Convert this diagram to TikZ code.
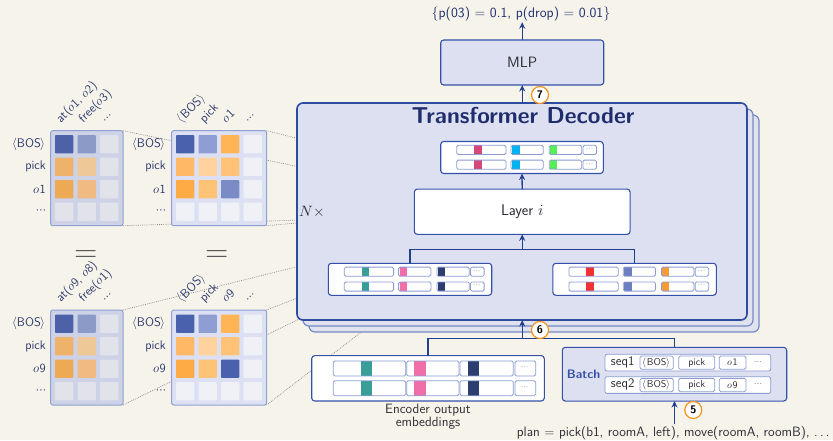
\documentclass[tikz,border=0pt]{standalone}
\usepackage{fontspec}
\usepackage{unicode-math}
\setmathfont{Latin Modern Math}
\renewcommand{\familydefault}{\sfdefault}
\usetikzlibrary{arrows.meta,backgrounds}
\definecolor{bg}{HTML}{F6F4EA}
\definecolor{boxblue}{HTML}{3450A8}
\definecolor{tdblue}{HTML}{2E4BA2}
\definecolor{copyblue}{HTML}{7488C8}
\definecolor{copyfill}{HTML}{E0E2EE}
\definecolor{boxfill}{HTML}{DDE0F0}
\definecolor{arrowblue}{HTML}{23408F}
\definecolor{navyt}{HTML}{1F2D6E}
\definecolor{labnavy}{HTML}{2E3A70}
\definecolor{txtgray}{HTML}{2C2C34}
\definecolor{barblue}{HTML}{8C9CD2}
\definecolor{dotgray}{HTML}{7A7A8A}
\definecolor{numorange}{HTML}{F7941D}
\definecolor{zoomgray}{HTML}{8A8A8A}
\definecolor{eqgray}{HTML}{5A5A5A}
\definecolor{batchblue}{HTML}{3450A8}
\definecolor{matborder}{HTML}{8FA0D2}
\definecolor{matAfill}{HTML}{CDD2E6}
\definecolor{matBfill}{HTML}{DCE0F2}
% cell colours
\definecolor{Ab}{HTML}{4C61A8}
\definecolor{Am}{HTML}{8C9AC8}
\definecolor{Ag}{HTML}{E1E2EA}
\definecolor{Ao1}{HTML}{EEB26A}
\definecolor{Ao2}{HTML}{EFC897}
\definecolor{Ao3}{HTML}{EEA954}
\definecolor{Ao4}{HTML}{EFBB82}
\definecolor{Bb}{HTML}{4A62AE}
\definecolor{Bm}{HTML}{8E9ED2}
\definecolor{Bo}{HTML}{FFB554}
\definecolor{Bl}{HTML}{F0F1F7}
\definecolor{Bo21}{HTML}{FFB966}
\definecolor{Bo22}{HTML}{FFD29E}
\definecolor{Bo23}{HTML}{FFC276}
\definecolor{Bo31}{HTML}{FFAB45}
\definecolor{Bo32}{HTML}{FFC375}
\definecolor{Bb2}{HTML}{7A8BC6}
% embedding colours
\definecolor{crimson}{HTML}{D5467A}
\definecolor{cyanc}{HTML}{00B2EE}
\definecolor{greenc}{HTML}{55EE55}
\definecolor{tealc}{HTML}{3A9E98}
\definecolor{pinkc}{HTML}{F06FA8}
\definecolor{navybar}{HTML}{2C3D70}
\definecolor{redc}{HTML}{F03232}
\definecolor{slatec}{HTML}{6A7EC0}
\definecolor{orangec}{HTML}{F79A38}

\newcommand{\myfs}[1]{\fontsize{#1}{#1}\selectfont\sffamily}
\newcommand{\mcells}[4]{%
  \foreach \mc [count=\k from 0] in {#4}{%
    \pgfmathtruncatemacro{\rr}{floor(\k/#3)}%
    \pgfmathtruncatemacro{\cq}{mod(\k,#3)}%
    \fill[\mc, rounded corners=0.8] ({#1+22.5*\cq},{#2+22.5*\rr}) rectangle ++(18.3,18.3);
  }}
\newcommand{\ebar}[7]{%
  \fill[white, rounded corners=1.5] (#1,#5) rectangle (#2,#6);
  \fill[#7] (#3,#5) rectangle (#4,#6);
  \draw[barline] (#1,#5) rectangle (#2,#6);}
\newcommand{\edots}[4]{%
  \fill[white, rounded corners=1.5] (#1,#3) rectangle (#2,#4);
  \draw[barline] (#1,#3) rectangle (#2,#4);
  \path ({(#1+#2)/2},{(#3+#4)/2}) node[font=\myfs{9}, text=dotgray, inner sep=0] {$\cdots$};}
\newcommand{\smallemb}[5]{%
  \begin{scope}[shift={(#1,#2)}]
  \foreach \yy in {3.8,18.6}{%
    \ebar{16}{65.3}{33.5}{41}{\yy}{\yy+9.2}{#3}
    \ebar{70.3}{102.6}{71.2}{78.8}{\yy}{\yy+9.2}{#4}
    \ebar{108.6}{141}{109.3}{116.5}{\yy}{\yy+9.2}{#5}
    \edots{142.2}{155.8}{\yy}{\yy+9.2}
  }
  \end{scope}}

\begin{document}
\begin{tikzpicture}[x=1pt,y=-1pt,font=\sffamily,
  box/.style={draw=boxblue, line width=1.1, fill=boxfill, rounded corners=3, inner sep=0, outer sep=0},
  wbox/.style={box, fill=white},
  tdmain/.style={draw=tdblue, line width=1.6, fill=boxfill, rounded corners=6, inner sep=0, outer sep=0},
  tdcopy/.style={draw=copyblue, line width=1.2, fill=copyfill, rounded corners=6, inner sep=0, outer sep=0},
  arr/.style={draw=arrowblue, line width=1.3, -{Stealth[length=6.5,width=6]}},
  conn/.style={draw=arrowblue, line width=1.2},
  num/.style={circle, draw=numorange, line width=1.2, fill=white, inner sep=0, minimum size=17, font=\myfs{11}\bfseries, text=black},
  barline/.style={draw=barblue, line width=0.8, rounded corners=1.5},
  zoomline/.style={draw=zoomgray, line width=0.7, dash pattern=on 0.8pt off 1.1pt},
  matA/.style={draw=matborder, line width=1, fill=matAfill, rounded corners=2, inner sep=0, outer sep=0},
  matB/.style={draw=matborder, line width=1, fill=matBfill, rounded corners=2, inner sep=0, outer sep=0},
  rowlab/.style={anchor=east, font=\myfs{12.5}, text=labnavy, inner sep=0},
  collab/.style={rotate=45, anchor=base west, font=\myfs{12.5}, text=labnavy, inner sep=0},
  tok/.style={draw=barblue, line width=0.8, fill=white, rounded corners=1.5, minimum height=13.3, inner sep=0, font=\myfs{10}, text=txtgray},
  rowbox/.style={draw=barblue, line width=0.8, fill=white, rounded corners=2, inner sep=0, minimum width=165.7, minimum height=16.7}
]
\begin{pgfonlayer}{background}
\fill[bg] (0,0) rectangle (833,440);
\end{pgfonlayer}
\useasboundingbox (0,0) rectangle (833,440);

% ---------------- attention matrices ----------------
% top-left
\node[matA, minimum width=72.3, minimum height=95, anchor=north west] (mTL) at (50.7,130.7) {};
\mcells{55}{135}{3}{Ab,Am,Ag,Ao1,Ao2,Ag,Ao3,Ao4,Ag,Ag,Ag,Ag}
\node[rowlab] (tlr1) at (46,144.2) {$\langle$BOS$\rangle$};
\node[rowlab] (tlr2) at (46,166.7) {pick};
\node[rowlab] (tlr3) at (46,189.2) {$o$1};
\node[rowlab] (tlr4) at (46,211.7) {$\cdots$};
\node[collab] (tlc1) at (60.7,123.3) {at($o$1, $o$2)};
\node[collab] (tlc2) at (83.2,123.3) {free($o$3)};
\node[collab] (tlc3) at (106.2,123.3) {$\cdots$};
% top-right
\node[matB, minimum width=94.8, minimum height=95, anchor=north west] (mTR) at (171.7,130.7) {};
\mcells{176}{135}{4}{Bb,Bm,Bo,Bl,Bo21,Bo22,Bo23,Bl,Bo31,Bo32,Bb2,Bl,Bl,Bl,Bl,Bl}
\node[rowlab] (trr1) at (166,144.2) {$\langle$BOS$\rangle$};
\node[rowlab] (trr2) at (166,166.7) {pick};
\node[rowlab] (trr3) at (166,189.2) {$o$1};
\node[rowlab] (trr4) at (166,211.7) {$\cdots$};
\node[collab] (trc1) at (181.7,123.3) {$\langle$BOS$\rangle$};
\node[collab] (trc2) at (204.2,123.3) {pick};
\node[collab] (trc3) at (226.7,123.3) {$o$1};
\node[collab] (trc4) at (249.7,123.3) {$\cdots$};
% equals
\node[font=\myfs{30}, text=eqgray] (eq1) at (86,256) {$=$};
\node[font=\myfs{30}, text=eqgray] (eq2) at (216.7,256) {$=$};
% bottom-left
\node[matA, minimum width=72.3, minimum height=95, anchor=north west] (mBL) at (50.7,310) {};
\mcells{55}{314.5}{3}{Ab,Am,Ag,Ao1,Ao2,Ag,Ao3,Ao4,Ag,Ag,Ag,Ag}
\node[rowlab] (blr1) at (46,323.7) {$\langle$BOS$\rangle$};
\node[rowlab] (blr2) at (46,346.2) {pick};
\node[rowlab] (blr3) at (46,368.7) {$o$9};
\node[rowlab] (blr4) at (46,391.2) {$\cdots$};
\node[collab] (blc1) at (60.7,302.6) {at($o$9, $o$8)};
\node[collab] (blc2) at (83.2,302.6) {free($o$1)};
\node[collab] (blc3) at (106.2,302.6) {$\cdots$};
% bottom-right
\node[matB, minimum width=94.8, minimum height=95, anchor=north west] (mBR) at (171.7,310) {};
\mcells{176}{314.5}{4}{Bb,Bm,Bo,Bl,Bo21,Bo22,Bo23,Bl,Bo31,Bo32,Bb,Bl,Bl,Bl,Bl,Bl}
\node[rowlab] (brr1) at (166,323.7) {$\langle$BOS$\rangle$};
\node[rowlab] (brr2) at (166,346.2) {pick};
\node[rowlab] (brr3) at (166,368.7) {$o$9};
\node[rowlab] (brr4) at (166,391.2) {$\cdots$};
\node[collab] (brc1) at (181.7,302.6) {$\langle$BOS$\rangle$};
\node[collab] (brc2) at (204.2,302.6) {pick};
\node[collab] (brc3) at (226.7,302.6) {$o$9};
\node[collab] (brc4) at (249.7,302.6) {$\cdots$};

% zoom-line targets (hidden under the decoder)
\coordinate (z1) at (300,167);
\coordinate (z2) at (300,220);
\coordinate (z3) at (300,139);
\coordinate (z4) at (300,222.7);
\coordinate (z5) at (300,266);
\coordinate (z6) at (330,304);
\coordinate (z7) at (300,297);
\coordinate (z8) at (390,310);
\begin{pgfonlayer}{background}
\draw[zoomline] (mTL.north east) -- (z1);
\draw[zoomline] (mTL.south east) -- (z2);
\draw[zoomline] (mTR.north east) -- (z3);
\draw[zoomline] (mTR.south east) -- (z4);
\draw[zoomline] (mBL.north east) -- (z5);
\draw[zoomline] (mBL.south east) -- (z6);
\draw[zoomline] (mBR.north east) -- (z7);
\draw[zoomline] (mBR.south east) -- (z8);
\end{pgfonlayer}

% ---------------- transformer decoder ----------------
\node[tdcopy, minimum width=450, minimum height=217] (td2) at (534,223.5) {};
\node[tdcopy, minimum width=450, minimum height=217] (td1) at (528,217.5) {};
\node[tdmain, minimum width=450, minimum height=217] (td) at (522,211.5) {};
\node[anchor=base, font=\myfs{23}\bfseries, text=navyt, inner sep=0] (title) at (523,123.3) {Transformer Decoder};
\node[anchor=west, font=\myfs{15}, text=txtgray, inner sep=0] (nx) at (299.5,211.5) {$N{\times}$};

% top embeddings
\node[wbox, minimum width=162.6, minimum height=32] (etop) at (522,157.5) {};
\smallemb{440.7}{141.5}{crimson}{cyanc}{greenc}
% layer i
\node[wbox, minimum width=215.7, minimum height=45.3, font=\myfs{15.5}, text=txtgray] (layer) at (522.2,211.7) {Layer $i$};
% bottom embeddings
\node[wbox, minimum width=163.4, minimum height=32] (ebl) at (410,279.3) {};
\smallemb{328.3}{263.3}{tealc}{pinkc}{navybar}
\node[wbox, minimum width=163.4, minimum height=32] (ebr) at (634.6,279.3) {};
\smallemb{552.9}{263.3}{redc}{slatec}{orangec}

\coordinate (jl) at (522.2,249.3);
\draw[conn] (ebl.north) |- (jl) -| (ebr.north);
\draw[arr] (jl) -- (layer.south);
\draw[arr] (layer.north) -- (etop.south);

% ---------------- MLP and output ----------------
\node[box, minimum width=163, minimum height=45, font=\myfs{15}, text=txtgray] (mlp) at (522.2,62.5) {MLP};
\node[font=\myfs{14}, text=navyt, inner sep=1] (out) at (521,14) {\{p(03) = 0.1, p(drop) = 0.01\}};
\draw[arr] (td.north -| mlp.south) -- (mlp.south);
\draw[arr] (mlp.north) -- (mlp.north |- out.south);
\node[num] (n7) at (540,95) {7};

% ---------------- encoder output ----------------
\node[wbox, minimum width=232.6, minimum height=45.3] (enc) at (428,378.3) {};
\foreach \yy in {361,380.7}{%
  \ebar{333.3}{405.7}{360.7}{371.7}{\yy}{\yy+15}{tealc}
  \ebar{406.7}{459}{414.3}{425.7}{\yy}{\yy+15}{pinkc}
  \ebar{460}{513.3}{468.3}{479.3}{\yy}{\yy+15}{navybar}
  \edots{515}{535.7}{\yy}{\yy+15}
}
\node[align=center, font=\fontsize{13.5}{12.5}\selectfont\sffamily, text=txtgray, inner sep=0] (enclab) at (428,416.5) {Encoder output\\embeddings};

% ---------------- batch ----------------
\node[box, minimum width=224.4, minimum height=53.7] (batch) at (674.5,374.2) {};
\node[font=\myfs{12.3}\bfseries, text=batchblue, inner sep=0] (batchlab) at (583.5,374.6) {Batch};
\node[rowbox] (row1) at (687.85,362.65) {};
\node[font=\myfs{13}, text=txtgray, inner sep=0] (seq1) at (622.7,362.4) {seq1};
\node[tok, minimum width=33.3] (r1bos) at (656.65,362.65) {$\langle$BOS$\rangle$};
\node[tok, minimum width=36] (r1pick) at (696.7,362.65) {pick};
\node[tok, minimum width=26.7] (r1o) at (732.65,362.65) {$o$1};
\node[font=\myfs{10}, text=dotgray, inner sep=0] (r1dots) at (758,362.65) {$\cdots$};
\node[rowbox] (row2) at (687.85,385) {};
\node[font=\myfs{13}, text=txtgray, inner sep=0] (seq2) at (622.7,384.8) {seq2};
\node[tok, minimum width=33.3] (r2bos) at (656.65,385) {$\langle$BOS$\rangle$};
\node[tok, minimum width=36] (r2pick) at (696.7,385) {pick};
\node[tok, minimum width=26.7] (r2o) at (732.65,385) {$o$9};
\node[font=\myfs{10}, text=dotgray, inner sep=0] (r2dots) at (758,385) {$\cdots$};

\coordinate (j6) at (522.2,338.3);
\draw[conn] (enc.north) |- (j6) -| (batch.north);
\draw[arr] (j6) -- (td.south -| j6);
\node[num] (n6) at (540,330) {6};

% ---------------- plan ----------------
\node[font=\myfs{13.5}, text=txtgray, inner sep=0] (plan) at (673.3,433) {plan = pick(b1, roomA, left), move(roomA, roomB), .\,.\,.};
\draw[arr] (batch.south |- 0,424) -- (batch.south);
\node[num] (n5) at (693.3,410) {5};
\end{tikzpicture}
\end{document}
